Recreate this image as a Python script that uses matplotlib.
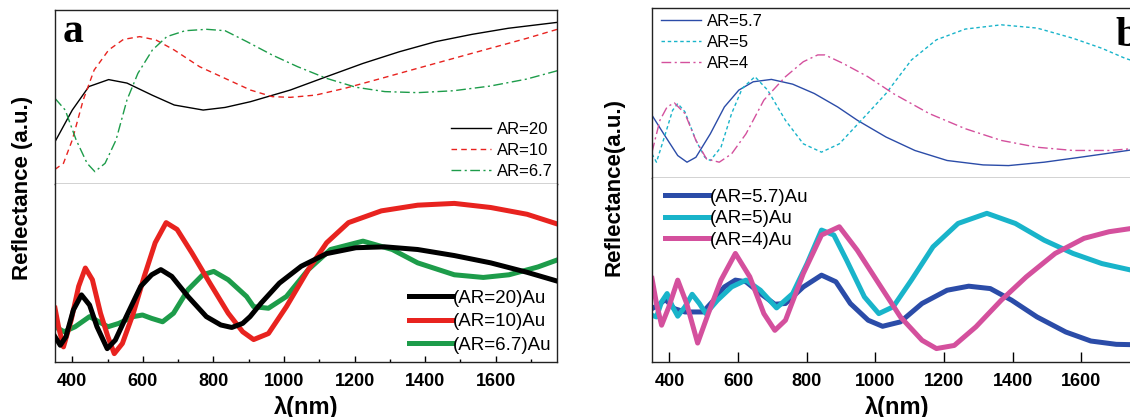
import matplotlib
matplotlib.use("Agg")
import matplotlib.pyplot as plt
from matplotlib.ticker import MultipleLocator

# ---------------- data (relative reflectance, arbitrary units 0-100) ----------------
# Panel a, top (bare arrays)
wl_a_ar20 = [351, 400, 447, 503, 555, 627, 689, 771, 833, 905, 1018, 1121, 1224, 1327, 1430, 1533, 1636, 1775]
r_a_ar20 = [24.3, 42.5, 56, 60, 58, 51, 45.4, 42.5, 44, 47.3, 54, 61.7, 69.3, 76, 81.8, 86, 89.5, 92.9]
wl_a_ar10 = [351, 375, 400, 431, 462, 503, 545, 591, 637, 689, 761, 833, 905, 967, 1018, 1090, 1173, 1276, 1379, 1481, 1585, 1688, 1775]
r_a_ar10 = [8.4, 11.9, 25.3, 48.3, 65.5, 77, 83.1, 84.7, 82.8, 77, 67.4, 60.7, 54, 50.2, 49.8, 51.1, 55, 60.7, 66.5, 72.2, 78, 83.7, 88.9]
wl_a_ar67 = [351, 380, 411, 442, 464, 493, 524, 555, 586, 627, 668, 720, 781, 833, 895, 967, 1039, 1121, 1204, 1286, 1379, 1481, 1585, 1688, 1775]
r_a_ar67 = [49.2, 42.5, 25.3, 11.9, 7.1, 11.9, 25.3, 48.3, 63.6, 77, 84.7, 88.1, 88.9, 88.1, 81.8, 74.1, 67.4, 60.7, 55.6, 53.1, 52.5, 53.6, 56.3, 60.3, 65.1]

# Panel a, bottom (Au coated)
wl_a_ar20_au = [351, 366, 382, 403, 426, 449, 470, 499, 522, 553, 594, 625, 651, 682, 728, 780, 821, 852, 883, 904, 935, 987, 1049, 1121, 1204, 1286, 1379, 1483, 1586, 1689, 1777]
r_a_ar20_au = [14.2, 9.4, 14.2, 29.2, 37.7, 32, 19.8, 7.5, 12.3, 25.5, 42.5, 49, 51.9, 48.1, 36.8, 25.5, 20.8, 19.4, 21.7, 25.5, 33, 44.3, 53.8, 60.9, 64.2, 64.7, 63.2, 59.8, 55.7, 50.4, 45.3]
wl_a_ar10_au = [351, 361, 375, 397, 418, 437, 457, 480, 501, 519, 542, 573, 604, 635, 666, 697, 739, 790, 842, 883, 914, 956, 1007, 1069, 1121, 1183, 1276, 1379, 1483, 1586, 1689, 1777]
r_a_ar10_au = [30.2, 19.8, 8.5, 23.6, 42.5, 52.8, 46.2, 27.4, 14.2, 4.7, 10.4, 27.4, 48.1, 67, 78.3, 74.5, 61.3, 44.3, 27.4, 17, 12.6, 16, 31.1, 51.9, 67, 78.3, 84.9, 88.1, 89.1, 86.8, 83, 77.4]
wl_a_ar67_au = [351, 377, 408, 449, 501, 532, 573, 599, 625, 656, 687, 728, 770, 801, 842, 894, 914, 956, 1007, 1069, 1132, 1224, 1307, 1379, 1483, 1565, 1638, 1720, 1777]
r_a_ar67_au = [19.8, 17, 19.8, 25.5, 19.8, 21.7, 25.5, 26.4, 24.5, 22.6, 27.4, 40.6, 49, 50.9, 46.2, 36.8, 31.1, 30.2, 36.8, 51.9, 63.2, 67.9, 63.2, 55.7, 49, 47.5, 49, 53.4, 57.5]

# Panel b, top
wl_b_ar57 = [349, 383, 424, 451, 477, 519, 560, 602, 644, 697, 759, 822, 890, 948, 1031, 1115, 1209, 1314, 1388, 1492, 1597, 1681, 1780]
r_b_ar57 = [36.9, 26, 13.2, 9.3, 12.2, 26, 41.8, 51.7, 56.6, 58, 55.2, 49.7, 41.8, 33.9, 24.1, 16.2, 10.3, 7.7, 7.3, 9.3, 12.2, 14.6, 17.5]
wl_b_ar5 = [349, 362, 388, 409, 424, 445, 477, 503, 519, 550, 581, 612, 649, 686, 738, 790, 843, 895, 968, 1031, 1105, 1178, 1262, 1367, 1471, 1576, 1660, 1728, 1780]
r_b_ar5 = [14.2, 9.3, 26, 39.8, 43.8, 38.9, 22.1, 12.2, 10.3, 18.1, 37.9, 52.7, 59.6, 51.7, 33.9, 20.1, 15.2, 20.1, 35.9, 49.7, 69.4, 81.3, 87.6, 90.1, 88.2, 82.2, 76.3, 70.4, 67]
wl_b_ar4 = [349, 372, 393, 414, 445, 477, 508, 545, 581, 623, 675, 738, 790, 832, 853, 905, 978, 1052, 1157, 1262, 1367, 1471, 1576, 1681, 1780]
r_b_ar4 = [15.2, 33.9, 41.8, 44.2, 37.9, 22.1, 11.2, 9.3, 14.2, 26, 45.8, 59.6, 68.4, 72.4, 72.4, 67.5, 59.6, 49.7, 37.9, 29, 22.1, 18.1, 16.2, 16.2, 17.7]

# Panel b, bottom (Au coated)
wl_b_ar57_au = [349, 367, 388, 414, 445, 498, 529, 560, 592, 623, 665, 707, 738, 790, 843, 885, 927, 979, 1021, 1073, 1136, 1209, 1272, 1335, 1397, 1471, 1555, 1628, 1702, 1780]
r_b_ar57_au = [29, 30.9, 34, 29, 27.2, 27.2, 33.6, 40.8, 44.5, 43.6, 37.2, 31.4, 31.8, 40.8, 47.2, 43.6, 31.8, 22.7, 19.4, 21.8, 31.8, 39, 41.2, 39.9, 33.6, 24.5, 16.3, 11.4, 9.6, 9.3]
wl_b_ar5_au = [349, 362, 377, 393, 409, 424, 445, 466, 487, 506, 540, 581, 623, 665, 712, 759, 801, 843, 879, 916, 968, 1010, 1052, 1105, 1168, 1241, 1325, 1408, 1492, 1576, 1660, 1780]
r_b_ar5_au = [25.4, 24.5, 32.7, 37.2, 30, 24.9, 30, 36.8, 31.8, 26.3, 33.6, 40.8, 44.5, 39, 29.4, 37.2, 53.5, 71.7, 69, 55.4, 35.4, 26.3, 30, 44.5, 62.6, 75.3, 80.8, 75.3, 66.2, 59, 53.5, 48.5]
wl_b_ar4_au = [349, 362, 377, 398, 424, 450, 482, 513, 550, 592, 634, 675, 707, 738, 790, 843, 895, 947, 1010, 1073, 1136, 1178, 1230, 1293, 1367, 1440, 1524, 1608, 1681, 1780]
r_b_ar4_au = [45.4, 31.8, 20, 29.9, 44.5, 31.8, 10.3, 26.3, 44.5, 59, 46.3, 26.3, 17.2, 22.7, 48.1, 69, 73.5, 60.8, 42.6, 24.5, 11.8, 7.3, 9, 19.1, 33.6, 46.3, 59, 67.2, 70.8, 73.5]

xticks = [400, 600, 800, 1000, 1200, 1400, 1600]
xlim_a = (351, 1774)
xlim_b = (349, 1780)

# ---------------- styling ----------------
BLACK = "#000000"
RED = "#e8231f"
GREEN = "#1d9c4a"
BLUE = "#2b4ca8"
CYAN = "#19b4ca"
MAGENTA = "#d4509d"

plt.rcParams["font.family"] = ["Liberation Sans", "DejaVu Sans"]

W, H = 1130, 417
fig = plt.figure(figsize=(W / 100, H / 100), dpi=100)


def ax_px(l, t, r, b):
    return fig.add_axes([l / W, 1 - b / H, (r - l) / W, (b - t) / H])


def fig_pt(x, y):
    return (x / W, 1 - y / H)


thin = 1.0
thick = 3.6

# ---- panel a ----
axa1 = ax_px(55, 10, 557, 184)
axa2 = ax_px(55, 184, 557, 362)

axa1.plot(wl_a_ar20, r_a_ar20, color=BLACK, lw=thin, label="AR=20")
axa1.plot(wl_a_ar10, r_a_ar10, color=RED, lw=thin, ls=(0, (4, 3)), label="AR=10")
axa1.plot(wl_a_ar67, r_a_ar67, color=GREEN, lw=thin, ls=(0, (7, 2.5, 1.5, 2.5)), label="AR=6.7")

axa2.plot(wl_a_ar20_au, r_a_ar20_au, color=BLACK, lw=thick, label="(AR=20)Au", zorder=3)
axa2.plot(wl_a_ar10_au, r_a_ar10_au, color=RED, lw=thick, label="(AR=10)Au", zorder=2)
axa2.plot(wl_a_ar67_au, r_a_ar67_au, color=GREEN, lw=thick, label="(AR=6.7)Au", zorder=1)

# ---- panel b ----
axb1 = ax_px(652, 8, 1143, 178)
axb2 = ax_px(652, 178, 1143, 362)

axb1.plot(wl_b_ar57, r_b_ar57, color=BLUE, lw=thin, label="AR=5.7")
axb1.plot(wl_b_ar5, r_b_ar5, color=CYAN, lw=thin, ls=(0, (2.5, 2)), label="AR=5")
axb1.plot(wl_b_ar4, r_b_ar4, color=MAGENTA, lw=thin, ls=(0, (7, 2.5, 1.5, 2.5)), label="AR=4")

axb2.plot(wl_b_ar57_au, r_b_ar57_au, color=BLUE, lw=thick, label="(AR=5.7)Au")
axb2.plot(wl_b_ar5_au, r_b_ar5_au, color=CYAN, lw=thick, label="(AR=5)Au")
axb2.plot(wl_b_ar4_au, r_b_ar4_au, color=MAGENTA, lw=thick, label="(AR=4)Au")

for ax, xl in ((axa1, xlim_a), (axa2, xlim_a), (axb1, xlim_b), (axb2, xlim_b)):
    ax.set_xlim(*xl)
    ax.set_ylim(0, 100)
    ax.set_yticks([])
    for s in ax.spines.values():
        s.set_linewidth(1.0)
        s.set_color("#222222")

for ax in (axa1, axb1):
    ax.set_xticks([])

for ax in (axa2, axb2):
    ax.set_xticks(xticks)
    ax.set_xticklabels([str(t) for t in xticks], fontsize=13, fontweight="bold")
    ax.tick_params(axis="x", direction="in", length=5, width=1, pad=8)
    ax.set_xlabel("λ(nm)", fontsize=17, fontweight="bold", labelpad=4)
    ax.spines["top"].set_visible(False)

axa2.xaxis.set_minor_locator(MultipleLocator(100))
axa2.tick_params(axis="x", which="minor", direction="in", length=2.5, width=1)
axa2.tick_params(axis="x", which="major", length=4)
axb2.tick_params(axis="x", which="major", length=7)

# legends
top_kw = dict(frameon=False, fontsize=12, handlelength=2.4, handletextpad=0.35,
              labelspacing=0.36, borderpad=0.0, bbox_transform=fig.transFigure)
bot_kw = dict(frameon=False, fontsize=13.5, handlelength=2.3, handletextpad=0.05,
              borderpad=0.0, bbox_transform=fig.transFigure)
axa1.legend(loc="lower right", bbox_to_anchor=fig_pt(561, 187), **top_kw)
axa2.legend(loc="lower right", bbox_to_anchor=fig_pt(561, 363), labelspacing=0.33, **bot_kw)
axb1.legend(loc="upper left", bbox_to_anchor=fig_pt(653, 6), **top_kw)
axb2.legend(loc="upper left", bbox_to_anchor=fig_pt(656, 179), labelspacing=0.24, **bot_kw)

# panel letters
axa1.text(0.016, 0.816, "a", transform=axa1.transAxes, fontsize=30, fontweight="bold",
          family=["Liberation Serif", "DejaVu Serif"], va="baseline", ha="left")
axb1.text(0.943, 0.95, "b", transform=axb1.transAxes, fontsize=30, fontweight="bold",
          family=["Liberation Serif", "DejaVu Serif"], va="top", ha="left")

# y labels
fig.text(23 / W, 1 - 188 / H, "Reflectance (a.u.)", rotation=90, fontsize=16,
         fontweight="bold", ha="center", va="center")
fig.text(614 / W, 1 - 187 / H, "Reflectance(a.u.)", rotation=90, fontsize=16,
         fontweight="bold", ha="center", va="center")

fig.savefig("out.png", dpi=100)
